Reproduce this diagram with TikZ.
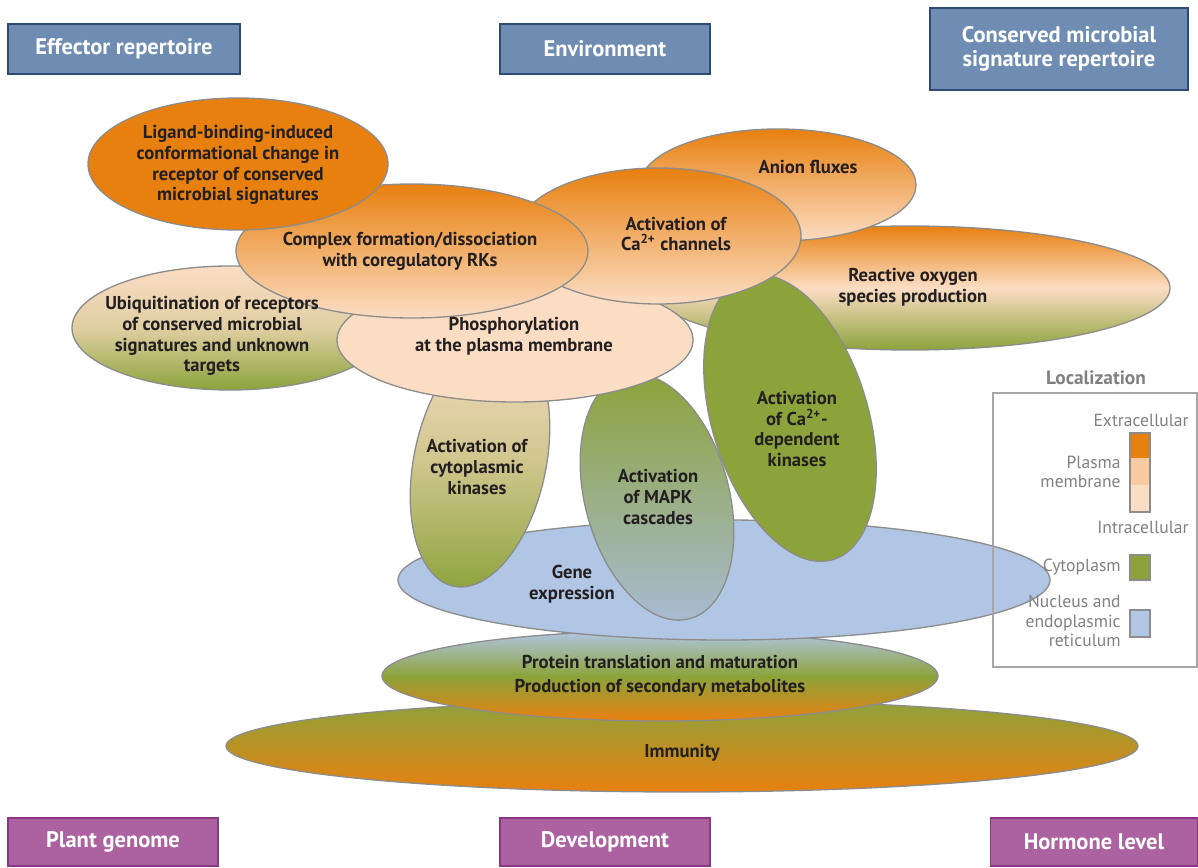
\documentclass[tikz,border=0pt]{standalone}
\usepackage{fontspec}
\setmainfont{PT Sans}
\usepackage{tikz}

\definecolor{boxblue}{HTML}{6F8DB3}
\definecolor{boxedge}{HTML}{2E4A73}
\definecolor{boxpurple}{HTML}{AC62A1}
\definecolor{purpedge}{HTML}{8A3883}
\definecolor{orng}{HTML}{E8800F}
\definecolor{peach}{HTML}{FBDDC4}
\definecolor{leaf}{HTML}{8CA33B}
\definecolor{nucl}{HTML}{B1C6E5}
\definecolor{rim}{HTML}{8C8C8C}
\definecolor{ink}{HTML}{231F20}
\definecolor{legtext}{HTML}{808080}

\tikzset{
  bubble/.style={draw=rim, line width=0.75pt},
  lbl/.style={text=ink, align=center, inner sep=0pt,
    font=\fontsize{10.6}{11.8}\selectfont\bfseries},
  factor/.style={draw=boxedge, line width=1pt, fill=boxblue, text=white,
    align=center, inner sep=0pt, minimum height=1cm,
    font=\fontsize{12.8}{13.8}\selectfont\bfseries},
  plantbox/.style={factor, draw=purpedge, fill=boxpurple, minimum height=0.96cm},
  legtxt/.style={text=legtext, align=right, anchor=east, inner sep=0pt,
    font=\fontsize{10}{10.9}\selectfont},
  swatch/.style={draw=rim, line width=0.6pt}
}

\begin{document}
\begin{tikzpicture}[x=0.02cm, y=-0.02cm]
\useasboundingbox (0,0) rectangle (1198,868);

% factors at the top and bottom
\node[factor, minimum width=4.64cm] (effector) at (124,49) {Effector repertoire};
\node[factor, minimum width=4.2cm] (environ) at (605,49) {Environment};
\node[factor, minimum width=5.16cm, minimum height=1.64cm] (conserved) at (1059,49) {Conserved microbial\\signature repertoire};
\node[plantbox, minimum width=4.2cm] (genome) at (113,842) {Plant genome};
\node[plantbox, minimum width=4.2cm] (develop) at (605,842) {Development};
\node[plantbox, minimum width=4.14cm] (hormone) at (1094,842) {Hormone level};

% bubbles, back to front
\path[bubble, top color=leaf, bottom color=orng] (682,746) ellipse [x radius=456, y radius=46];
\path[bubble, top color=nucl, bottom color=orng, middle color=leaf] (660,676) ellipse [x radius=278, y radius=45];
\path[bubble, fill=nucl] (724,580) ellipse [x radius=326, y radius=60];
\path[bubble, top color=orng, bottom color=leaf, middle color=peach] (910,288) ellipse [x radius=260, y radius=62];
\path[bubble, top color=orng, bottom color=peach] (778,185) ellipse [x radius=138, y radius=56];
\path[bubble, fill=leaf, rotate around={17:(790,418)}] (790,418) ellipse [x radius=78, y radius=148];
\path[bubble, top color=peach, bottom color=leaf, middle color=peach!60!leaf, rotate around={-12:(480,462)}] (480,462) ellipse [x radius=66, y radius=127];
\path[bubble, top color=leaf, bottom color=nucl!85!gray, rotate around={15:(657,497)}] (657,497) ellipse [x radius=72, y radius=126];
\path[bubble, top color=peach, bottom color=leaf, middle color=peach!75!leaf] (230,328) ellipse [x radius=158, y radius=62];
\path[bubble, fill=peach] (515,340) ellipse [x radius=178, y radius=62];
\path[bubble, top color=orng, bottom color=peach] (658,236) ellipse [x radius=143, y radius=68];
\path[bubble, top color=orng, bottom color=peach] (412,251) ellipse [x radius=176, y radius=67];
\path[bubble, fill=orng] (238,164) ellipse [x radius=150, y radius=66];

% labels
\node[lbl] (ligand) at (238,165) {Ligand-binding-induced\\conformational change in\\receptor of conserved\\microbial signatures};
\node[lbl] (complex) at (410,251) {Complex formation/dissociation\\with coregulatory RKs};
\node[lbl] (cachan) at (676,234) {Activation of\\Ca\textsuperscript{2+} channels};
\node[lbl] (anion) at (808,167) {Anion fluxes};
\node[lbl] (ros) at (913,287) {Reactive oxygen\\species production};
\node[lbl] (ubiq) at (212,336) {Ubiquitination of receptors\\of conserved microbial\\signatures and unknown\\targets};
\node[lbl] (phospho) at (514,336) {Phosphorylation\\at the plasma membrane};
\node[lbl] (cytokin) at (477,467) {Activation of\\cytoplasmic\\kinases};
\node[lbl] (mapk) at (658,497) {Activation\\of MAPK\\cascades};
\node[lbl] (cadep) at (797,429) {Activation\\of Ca\textsuperscript{2+}-\\dependent\\kinases};
\node[lbl] (gene) at (572,584) {Gene\\expression};
\node[lbl, font=\fontsize{10.6}{13.4}\selectfont\bfseries] (protein) at (660,676) {Protein translation and maturation\\Production of secondary metabolites};
\node[lbl] (immunity) at (682,753) {Immunity};

% legend
\node[text=legtext, font=\fontsize{11}{12}\selectfont\bfseries] (loctitle) at (1096,378) {Localization};
\draw[draw=legtext!70, line width=0.7pt] (993,393) rectangle (1197,667);
\fill[orng] (1130,433) rectangle (1150,458);
\fill[peach!80!orng] (1130,458) rectangle (1150,485);
\fill[peach] (1130,485) rectangle (1150,512);
\draw[swatch] (1130,433) rectangle (1150,512);
\draw[swatch, fill=leaf] (1130,555) rectangle (1150,580);
\draw[swatch, fill=nucl] (1130,610) rectangle (1150,637);
\node[legtxt] (extra) at (1189,420) {Extracellular};
\node[legtxt] (plasma) at (1121,472) {Plasma\\membrane};
\node[legtxt] (intra) at (1189,527) {Intracellular};
\node[legtxt] (cyto) at (1121,567) {Cytoplasm};
\node[legtxt] (nucleus) at (1121,621) {Nucleus and\\endoplasmic\\reticulum};
\end{tikzpicture}
\end{document}
